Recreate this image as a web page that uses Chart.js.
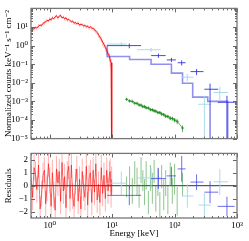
<!DOCTYPE html>
<html>
<head>
<meta charset="utf-8">
<script src="https://cdn.jsdelivr.net/npm/chart.js@4"></script>
<style>
  html, body { margin: 0; padding: 0; background: #fff; }
  #topc, #botc { position: absolute; left: 0; }
  #topc { top: 0; }
  #botc { top: 145px; }
</style>
</head>
<body>
<canvas id="topc" width="249" height="147"></canvas>
<canvas id="botc" width="249" height="96"></canvas>
<script>
/* axis ranges and tick labels */
const xMin = 0.5, xMax = 1000;
const xTickVals = [1, 10, 100, 1000];
const xTickText = ['10⁰', '10¹', '10²', '10³'];
const yTickVals = [1e-5, 1e-4, 1e-3, 1e-2, 1e-1, 1, 10];
const yTickText = ['10⁻⁵', '10⁻⁴', '10⁻³', '10⁻²', '10⁻¹', '10⁰', '10¹'];
const resTickVals = [-2, -1, 0, 1, 2];
const resTickText = ['−2', '−1', '0', '1', '2'];

/* red spectrum (low energy instrument) */
const redE = [0.50,0.53,0.56,0.59,0.62,0.66,0.70,0.74,0.78,0.82,
  0.86,0.90,0.95,1.00,1.05,1.10,1.16,1.22,1.28,1.35,
  1.42,1.49,1.57,1.65,1.73,1.82,1.91,2.01,2.11,2.22,
  2.33,2.45,2.58,2.71,2.85,3.00,3.15,3.31,3.48,3.66,
  3.85,4.05,4.26,4.48,4.71,4.95,5.20,5.47,5.75,6.05,
  6.36,6.69,7.03,7.39,7.77,8.17,8.59,9.03,9.30,9.60,9.80];
const redV = [7.0,7.6,8.1,9.4,8.8,11.3,12.6,12.1,15.8,17.4,
  18.9,22.7,21.0,27.5,24.2,31.8,28.0,35.1,40.5,30.2,
  38.6,42.3,31.0,34.4,27.2,31.5,23.5,25.8,21.9,19.2,
  20.6,16.1,17.3,15.0,16.4,12.6,13.9,13.5,11.2,12.3,
  10.4,11.1,9.0,10.2,8.8,8.3,7.4,6.0,5.0,3.8,
  2.9,2.2,1.55,1.15,0.80,0.56,0.38,0.26,0.17,0.12,0.08];
const redErr = [0.22,0.18,0.25,0.16,0.2,0.24,0.15,0.21,0.18,0.23,
  0.16,0.2,0.14,0.22,0.17,0.19,0.13,0.21,0.16,0.18,
  0.14,0.2,0.15,0.17,0.19,0.14,0.2,0.16,0.18,0.15,
  0.21,0.17,0.2,0.16,0.22,0.18,0.2,0.17,0.23,0.19,
  0.21,0.18,0.24,0.2,0.22,0.25,0.23,0.26,0.28,0.3,
  0.32,0.34,0.36,0.38,0.4,0.42,0.45,0.48,0.5,0.52,0.55];
const redCutE = 9.9, redCutV = 1e-8;
const redRes = [0.6,-0.9,1.4,0.9,-0.3,1.6,-1.8,-0.6,0.8,1.2,
  -1.4,-0.2,1.7,0.4,-1.6,1.0,-0.7,-1.9,1.3,0.2,
  1.1,-1.2,1.8,-0.4,0.7,-1.7,0.9,1.5,-1.0,1.6,
  -0.8,-1.6,0.3,1.3,-1.2,0.5,-1.8,1.1,-0.2,-0.9,
  1.5,-1.5,0.6,1.0,-1.3,1.2,-0.5,1.7,-1.1,0.1,
  -1.3,1.4,-0.6,0.8,-1.0,1.2,-0.4,0.9,1.1,-0.7,0.5];
const resSigma = 1;

/* blue spectrum */
const blueE   = [18.8, 55, 89, 130, 225, 370, 690];
const blueElo = [8.3, 42, 75, 112, 180, 300, 490];
const blueEhi = [29, 72, 105, 150, 290, 500, 920];
const blueV   = [1.0, 0.29, 0.17, 0.12, 0.04, 0.0045, 0.0009];
const blueVlo = [0.72, 0.22, 0.13, 0.085, 0.026, 0, 0];
const blueVhi = [1.3, 0.37, 0.22, 0.16, 0.055, 0.009, 0.002];
const blueRes    = [-0.75, 0.55, 0.76, 1.3, 0.28, -0.5, -1.6];
const blueResErr = [0.75, 0.8, 0.7, 1.0, 0.6, 0.85, 0.75];
const blueStepE = [8.3, 19, 42, 89, 134, 195, 340, 710, 990];
const blueStepV = [1.0, 0.26, 0.18, 0.10, 0.033, 0.0095, 0.0017, 0.001, 1e-8];

/* light blue spectrum */
const cyanE   = [14, 42, 160, 300, 530];
const cyanElo = [8.3, 25, 130, 240, 420];
const cyanEhi = [17, 60, 200, 380, 720];
const cyanV   = [1.2, 0.6, 0.02, 0.0007, 0.003];
const cyanVlo = [0.9, 0.45, 0.012, 0, 0.0012];
const cyanVhi = [1.5, 0.75, 0.03, 0.002, 0.006];
const cyanRes    = [0.2, 0.6, -0.8, -1.5, 0.3];
const cyanResErr = [0.9, 0.8, 0.9, 0.9, 1.0];

/* green spectrum */
const greenE = [17,19,21,23,25,27,29,31,33,35,38,41,44,47,50,54,58,62,67,72,78,85,92,100,110,134];
const greenV = [1.3e-3,1.05e-3,1.0e-3,8.0e-4,7.8e-4,6.4e-4,6.3e-4,5.2e-4,5.3e-4,4.5e-4,4.4e-4,3.6e-4,3.5e-4,
  3.1e-4,3.0e-4,2.5e-4,2.5e-4,2.1e-4,1.95e-4,1.6e-4,1.55e-4,1.25e-4,1.2e-4,1.0e-4,8.5e-5,3.7e-5];
const greenErr = [0.08,0.08,0.09,0.09,0.1,0.1,0.1,0.11,0.11,0.12,0.12,0.13,0.13,0.14,0.14,0.15,0.16,0.17,
  0.18,0.19,0.2,0.22,0.24,0.26,0.3,0.4];
const greenRes = [-0.1,0.6,-0.4,1.0,0.3,-0.8,1.2,0.4,-0.5,0.8,-1.3,0.6,-0.2,1.1,-1.0,0.3,-1.5,0.7,-0.7,
  0.2,-1.1,0.9,-0.4,0.5,-1.2,0.1];
const greenResErr = [0.8,0.9,1.0,0.9,1.1,0.9,1.0,0.8,1.0,1.1,0.9,1.0,1.2,0.9,1.0,1.1,1.0,0.9,1.2,1.0,
  1.1,0.9,1.0,1.2,1.1,0.9];

const FONT = {family: "'Liberation Serif', 'DejaVu Serif', serif", size: 9};

function pts(xs, ys){ return xs.map((x, i) => ({x: x, y: ys[i]})); }

// crosses: horizontal bin bar + vertical error bar, clipped to the plot
function crosses(chart, set){
  const {ctx, chartArea: a, scales: {x, y}} = chart;
  const yp = v => y.getPixelForValue(y.type === 'logarithmic' ? Math.max(v, y.min / 10) : v);
  ctx.save();
  ctx.beginPath(); ctx.rect(a.left, a.top, a.right - a.left, a.bottom - a.top); ctx.clip();
  ctx.strokeStyle = set.color; ctx.lineWidth = set.width;
  ctx.beginPath();
  set.x.forEach((e, i) => {
    const px = x.getPixelForValue(e);
    if (set.xlo) {
      const py = yp(set.y[i]);
      ctx.moveTo(x.getPixelForValue(set.xlo[i]), py);
      ctx.lineTo(x.getPixelForValue(set.xhi[i]), py);
    }
    ctx.moveTo(px, yp(set.ylo[i]));
    ctx.lineTo(px, yp(set.yhi[i]));
  });
  ctx.stroke();
  ctx.restore();
}

// frame with inward ticks on all four sides
function frame(chart, logY){
  const {ctx, chartArea: a, scales: {x, y}} = chart;
  ctx.save();
  ctx.strokeStyle = '#666'; ctx.lineWidth = 1;
  ctx.beginPath();
  for (let d = -1; d <= 3; d++) for (let m = 1; m <= 9; m++) {
    const v = m * Math.pow(10, d);
    if (v < xMin || v > xMax) continue;
    const px = Math.round(x.getPixelForValue(v)) + 0.5, len = m === 1 ? 4 : 2;
    ctx.moveTo(px, a.top); ctx.lineTo(px, a.top + len);
    ctx.moveTo(px, a.bottom); ctx.lineTo(px, a.bottom - len);
  }
  const yt = [];
  if (logY) {
    for (let d = -5; d <= 1; d++) for (let m = 1; m <= 9; m++) yt.push([m * Math.pow(10, d), m === 1 ? 4 : 2]);
  } else {
    resTickVals.forEach(v => yt.push([v, 4]));
  }
  yt.forEach(([v, len]) => {
    const py = Math.round(y.getPixelForValue(v)) + 0.5;
    ctx.moveTo(a.left, py); ctx.lineTo(a.left + len, py);
    ctx.moveTo(a.right, py); ctx.lineTo(a.right - len, py);
  });
  ctx.stroke();
  ctx.lineWidth = 1.3; ctx.strokeStyle = '#777';
  ctx.strokeRect(a.left, a.top, a.right - a.left, a.bottom - a.top);
  ctx.restore();
}

const base = {
  responsive: false, animation: false, events: [],
  plugins: {legend: {display: false}, tooltip: {enabled: false}},
  elements: {point: {radius: 0}, line: {tension: 0}}
};

new Chart(document.getElementById('topc'), {
  type: 'line',
  data: {datasets: [
    {data: pts(redE, redV).concat([{x: redCutE, y: redCutV}]), borderColor: 'rgba(255,0,0,0.9)', borderWidth: 1},
    {data: pts(blueStepE, blueStepV), stepped: 'after', borderColor: 'rgba(70,70,230,0.6)', borderWidth: 1.6},
    {data: pts(greenE, greenV), borderColor: 'rgba(30,140,30,0.8)', borderWidth: 0.8,
      pointStyle: 'cross', pointRadius: 1.6, pointBorderColor: '#1e8c1e', pointBorderWidth: 0.8}
  ]},
  options: Object.assign({}, base, {
    layout: {padding: {left: 0, right: 12, top: 2, bottom: 2}},
    scales: {
      x: {type: 'logarithmic', min: xMin, max: xMax, display: false},
      y: {
        type: 'logarithmic', min: 1e-5, max: 1e2,
        afterFit: s => { s.width = 31; },
        afterBuildTicks: s => { s.ticks = yTickVals.map(v => ({value: v})); },
        ticks: {font: FONT, color: '#000', padding: 3, autoSkip: false,
          callback: v => yTickText[yTickVals.indexOf(v)]},
        grid: {display: false, drawTicks: false}, border: {display: false},
        title: {display: true, text: 'Normalized counts keV⁻¹ s⁻¹ cm⁻²', font: FONT, color: '#000',
          padding: {top: 3, bottom: 0}}
      }
    }
  }),
  plugins: [{
    id: 'topMarks',
    beforeDatasetsDraw(chart){
      crosses(chart, {x: redE, y: redV, ylo: redV.map((v, i) => v * (1 - redErr[i])),
        yhi: redV.map((v, i) => v * (1 + redErr[i])), color: 'rgba(255,90,90,0.45)', width: 1});
    },
    afterDatasetsDraw(chart){
      crosses(chart, {x: cyanE, xlo: cyanElo, xhi: cyanEhi, y: cyanV, ylo: cyanVlo, yhi: cyanVhi,
        color: 'rgba(160,215,235,0.9)', width: 1});
      crosses(chart, {x: blueE, xlo: blueElo, xhi: blueEhi, y: blueV, ylo: blueVlo, yhi: blueVhi,
        color: 'rgba(40,40,225,0.85)', width: 1});
      crosses(chart, {x: greenE, y: greenV, ylo: greenV.map((v, i) => v * (1 - greenErr[i])),
        yhi: greenV.map((v, i) => v * (1 + greenErr[i])), color: 'rgba(30,140,30,0.8)', width: 0.8});
    },
    afterDraw(chart){ frame(chart, true); }
  }]
});

new Chart(document.getElementById('botc'), {
  type: 'line',
  data: {datasets: [
    {data: pts(redE, redRes), borderColor: 'rgba(255,0,0,0.7)', borderWidth: 0.8},
    {data: [{x: xMin, y: 0}, {x: xMax, y: 0}], borderColor: '#333', borderWidth: 1}
  ]},
  options: Object.assign({}, base, {
    layout: {padding: {left: 0, right: 12, top: 1, bottom: 0}},
    scales: {
      x: {
        type: 'logarithmic', min: xMin, max: xMax,
        afterFit: s => { s.height = 23; },
        afterBuildTicks: s => { s.ticks = xTickVals.map(v => ({value: v})); },
        ticks: {font: FONT, color: '#000', padding: 2, maxRotation: 0, autoSkip: false,
          callback: v => xTickText[xTickVals.indexOf(v)]},
        grid: {display: false, drawTicks: false}, border: {display: false},
        title: {display: true, text: 'Energy [keV]', font: FONT, color: '#000', padding: {top: 0, bottom: 2}}
      },
      y: {
        type: 'linear', min: -2.5, max: 2.5,
        afterFit: s => { s.width = 31; },
        afterBuildTicks: s => { s.ticks = resTickVals.map(v => ({value: v})); },
        ticks: {font: FONT, color: '#000', padding: 3, autoSkip: false,
          callback: v => resTickText[resTickVals.indexOf(v)]},
        grid: {display: false, drawTicks: false}, border: {display: false},
        title: {display: true, text: 'Residuals', font: FONT, color: '#000', padding: {top: 3, bottom: 0}}
      }
    }
  }),
  plugins: [{
    id: 'resMarks',
    beforeDatasetsDraw(chart){
      crosses(chart, {x: redE, y: redRes, ylo: redRes.map(r => r - resSigma), yhi: redRes.map(r => r + resSigma),
        color: 'rgba(255,60,60,0.4)', width: 1});
    },
    afterDatasetsDraw(chart){
      crosses(chart, {x: greenE, y: greenRes, ylo: greenRes.map((r, i) => r - greenResErr[i]),
        yhi: greenRes.map((r, i) => r + greenResErr[i]), color: 'rgba(50,150,50,0.55)', width: 1});
      crosses(chart, {x: cyanE, xlo: cyanElo, xhi: cyanEhi, y: cyanRes, ylo: cyanRes.map((r, i) => r - cyanResErr[i]),
        yhi: cyanRes.map((r, i) => r + cyanResErr[i]), color: 'rgba(160,215,235,0.9)', width: 1});
      crosses(chart, {x: blueE, xlo: blueElo, xhi: blueEhi, y: blueRes, ylo: blueRes.map((r, i) => r - blueResErr[i]),
        yhi: blueRes.map((r, i) => r + blueResErr[i]), color: 'rgba(50,50,230,0.7)', width: 1});
    },
    afterDraw(chart){ frame(chart, false); }
  }]
});
</script>
</body>
</html>
